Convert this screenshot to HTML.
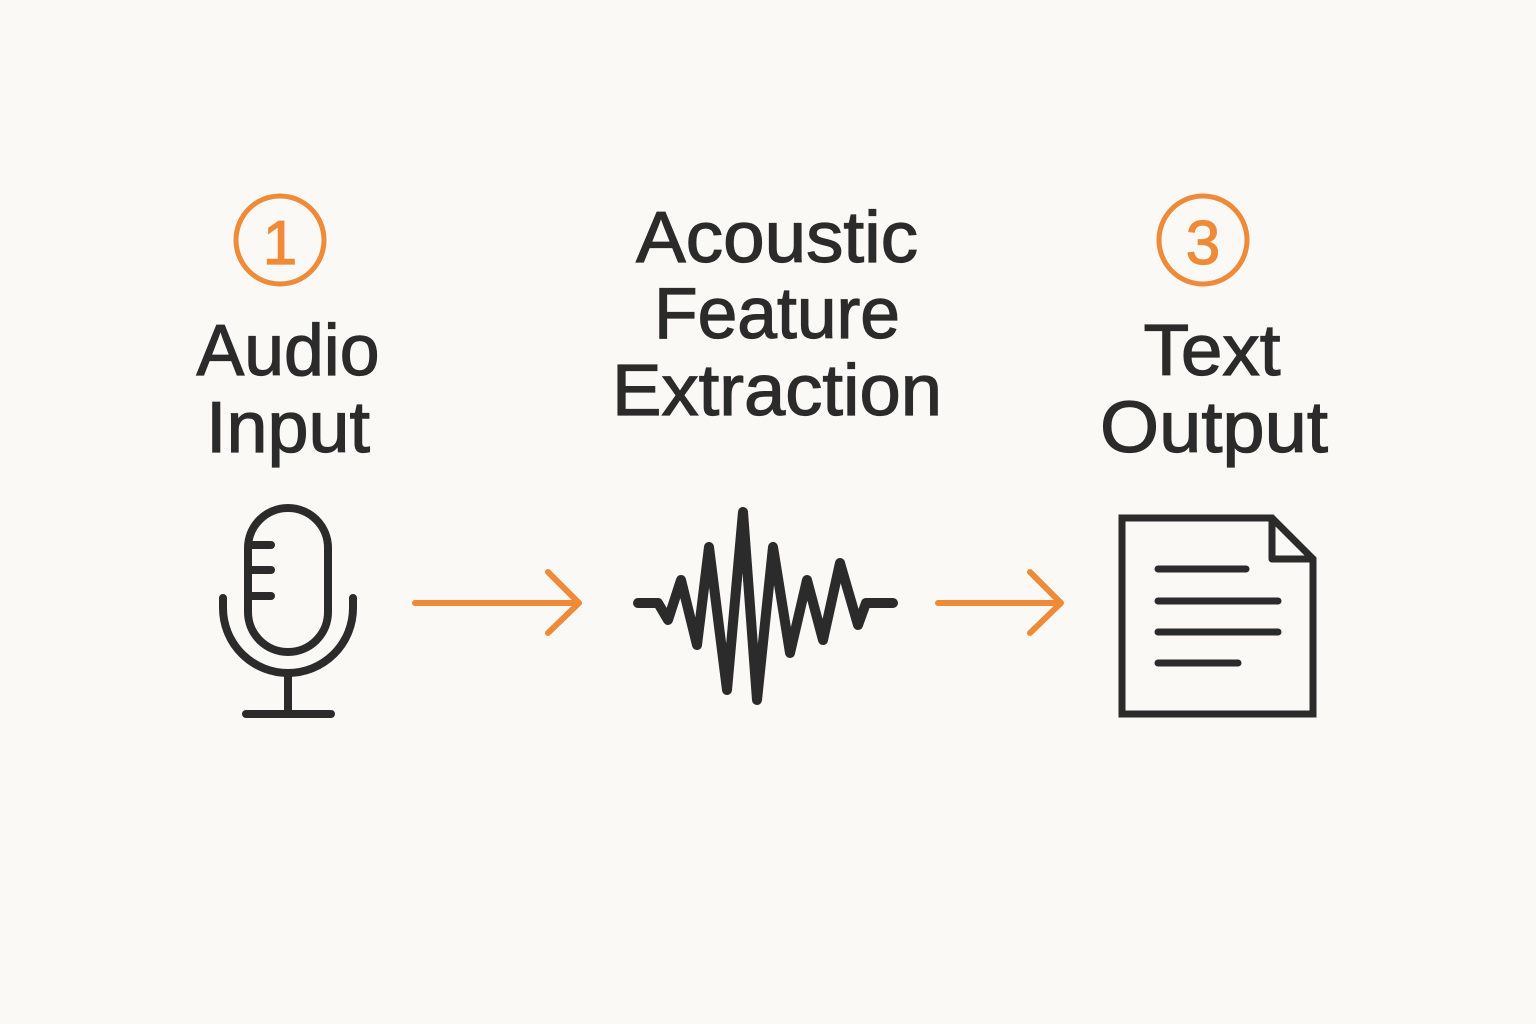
<!DOCTYPE html>
<html><head><meta charset="utf-8"><style>
html,body{margin:0;padding:0;background:#fbf9f6;}
svg{display:block}
text{font-family:"Liberation Sans",sans-serif;fill:#2b2b2b;font-size:72px;stroke:#2b2b2b;stroke-width:1.2px;}
</style></head><body>
<svg width="1536" height="1024" viewBox="0 0 1536 1024" xmlns="http://www.w3.org/2000/svg">
<rect width="1536" height="1024" fill="#fbf9f6"/>
<g fill="none" stroke="#ee8a38" stroke-width="5">
<circle cx="280" cy="240" r="44"/>
<circle cx="1203" cy="240" r="44"/>
</g>
<text x="280" y="264" text-anchor="middle" style="fill:#ee8a38;stroke:#ee8a38;font-size:62px">1</text>
<text x="1203" y="264" text-anchor="middle" style="fill:#ee8a38;stroke:#ee8a38;font-size:62px">3</text>
<text x="288" y="375" text-anchor="middle" textLength="183" lengthAdjust="spacingAndGlyphs">Audio</text>
<text x="288" y="452" text-anchor="middle" textLength="164" lengthAdjust="spacingAndGlyphs">Input</text>
<text x="777" y="262" text-anchor="middle" textLength="282" lengthAdjust="spacingAndGlyphs">Acoustic</text>
<text x="777" y="338" text-anchor="middle" textLength="246" lengthAdjust="spacingAndGlyphs">Feature</text>
<text x="777" y="415" text-anchor="middle" textLength="330" lengthAdjust="spacingAndGlyphs">Extraction</text>
<text x="1212" y="375" text-anchor="middle" textLength="137" lengthAdjust="spacingAndGlyphs">Text</text>
<text x="1214" y="452" text-anchor="middle" textLength="228" lengthAdjust="spacingAndGlyphs">Output</text>
<g fill="none" stroke="#2b2b2b" stroke-width="8" stroke-linecap="round" stroke-linejoin="round">
<rect x="248" y="508" width="80" height="144" rx="40"/>
<line x1="250" y1="545" x2="271" y2="545"/>
<line x1="250" y1="570" x2="271" y2="570"/>
<line x1="250" y1="596" x2="271" y2="596"/>
<path d="M223 598 V608 A65 65 0 0 0 353 608 V598"/>
<line x1="288" y1="673" x2="288" y2="713"/>
<line x1="246" y1="714" x2="331" y2="714"/>
</g>
<polyline fill="none" stroke="#2b2b2b" stroke-width="10" stroke-linecap="round" stroke-linejoin="round"
points="638,603 658,603 668,620 681,580 697,645 709,547 727,690 743,512 757,700 773,547 790,653 807,580 823,640 840,563 858,625 866,603 893,603"/>
<g fill="none" stroke="#2b2b2b" stroke-width="7" stroke-linecap="round" stroke-linejoin="miter">
<path d="M1122 518 H1272 L1313 559 V714 H1122 Z"/>
<path d="M1272 518 V559 H1313" stroke-linejoin="round"/>
<line x1="1158" y1="569" x2="1246" y2="569"/>
<line x1="1158" y1="601" x2="1278" y2="601"/>
<line x1="1158" y1="632" x2="1278" y2="632"/>
<line x1="1158" y1="663" x2="1238" y2="663"/>
</g>
<g fill="none" stroke="#ee8a38" stroke-width="6" stroke-linecap="round" stroke-linejoin="round">
<line x1="415" y1="603" x2="578" y2="603"/>
<polyline points="548,572 579,603 548,633"/>
<line x1="938" y1="603" x2="1060" y2="603"/>
<polyline points="1030,572 1061,603 1030,633"/>
</g>
</svg>
</body></html>
